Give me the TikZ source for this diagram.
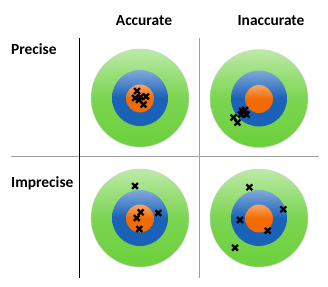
\documentclass[tikz,border=0pt]{standalone}
\usepackage{fontspec}
\setmainfont{Carlito}
\definecolor{grn}{HTML}{6CD03C}
\definecolor{blu}{HTML}{1A62B8}
\definecolor{org}{HTML}{F26A00}
\definecolor{gline}{HTML}{A0A0A0}
\tikzset{
  lbl/.style={font=\fontsize{15.5}{18}\selectfont\bfseries, inner sep=0pt},
  ring1/.style={top color=grn!45!white, bottom color=grn, middle color=grn!90!white, draw=gray!35, line width=0.4bp},
  ring2/.style={top color=blu!55!white, bottom color=blu, middle color=blu},
  ring3/.style={top color=org!60!white, bottom color=org, middle color=org},
  xm/.pic={\draw[line width=2.2bp, black] (-2.9,-2.9) -- (2.9,2.9) (-2.9,2.9) -- (2.9,-2.9);}
}
\begin{document}
\begin{tikzpicture}[x=1bp,y=-1bp]
\useasboundingbox (0,0) rectangle (328,287);
\fill[white] (0,0) rectangle (328,287);
% grid lines
\coordinate (hl) at (11,156.7);
\coordinate (hr) at (319,156.7);
\coordinate (vt1) at (79.3,38);
\coordinate (vb1) at (79.3,278);
\coordinate (vt2) at (199.5,38);
\coordinate (vb2) at (199.5,278);
\draw[gline, line width=0.8bp] (hl) -- (hr);
\draw[black, line width=0.9bp] (vt1) -- (vb1);
\draw[gline, line width=0.8bp] (vt2) -- (vb2);
% labels
\node[lbl] (acc) at (144,21) {Accurate};
\node[lbl] (inacc) at (271,21) {Inaccurate};
\node[lbl, anchor=west] (prec) at (11,49) {Precise};
\node[lbl, anchor=west] (imprec) at (11,183) {Imprecise};
% targets
\foreach \cx/\cy in {140/98, 259/98.5, 140/218, 259/218}{
  \shade[ring1] (\cx,\cy) circle[radius=49];
  \shade[ring2] (\cx,\cy) circle[radius=28];
  \shade[ring3] (\cx,\cy+0.5) circle[radius=14];
}
% crosses: precise accurate
\foreach \p in {(137,91),(135,98),(140.5,97),(146,96.5),(143.5,104.5),(139,100)}{
  \pic at \p {xm};
}
% precise inaccurate
\foreach \p in {(245,110),(241,114.5),(233.5,117.5),(237.5,122.5),(246.5,114.5),(242,111)}{
  \pic at \p {xm};
}
% imprecise accurate
\foreach \p in {(135,186),(158.3,213),(140.7,212.3),(136.7,218),(139.3,229)}{
  \pic at \p {xm};
}
% imprecise inaccurate
\foreach \p in {(249.3,187.3),(283.3,209.3),(240,220),(267.7,230.7),(235,247.7)}{
  \pic at \p {xm};
}
\end{tikzpicture}
\end{document}
